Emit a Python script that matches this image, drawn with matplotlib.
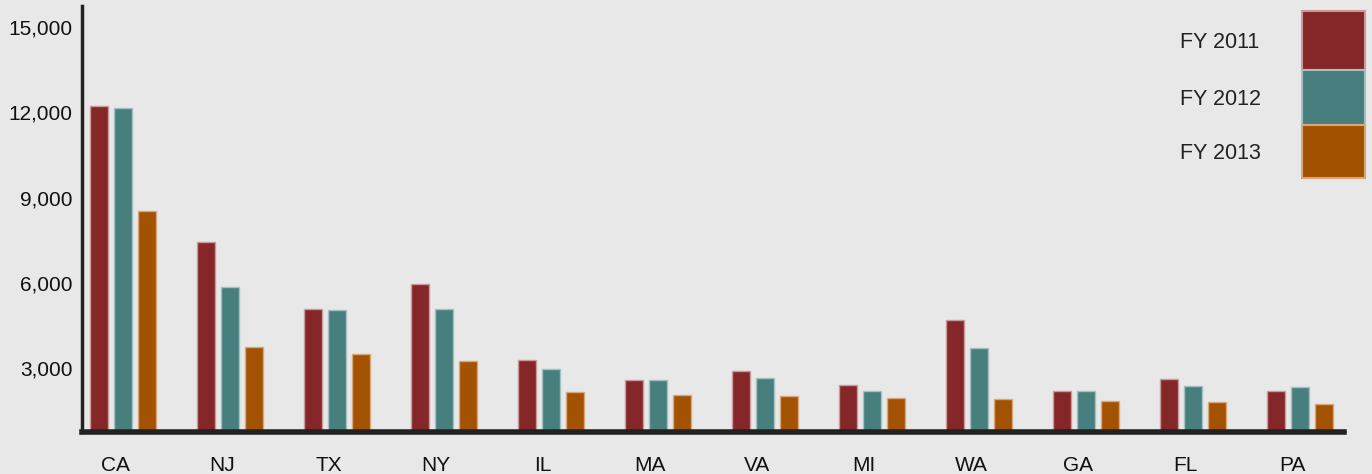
import matplotlib
matplotlib.use("Agg")
import matplotlib.pyplot as plt
import matplotlib.transforms as mtransforms
from matplotlib.patches import Rectangle
import numpy as np

plt.rcParams["font.family"] = ["Liberation Sans", "DejaVu Sans"]

STATES = ["CA", "NJ", "TX", "NY", "IL", "MA", "VA", "MI", "WA", "GA", "FL", "PA"]
FY2011 = [12230, 7440, 5090, 5970, 3300, 2570, 2880, 2420, 4690, 2200, 2610, 2200]
FY2012 = [12140, 5840, 5040, 5090, 2980, 2570, 2660, 2190, 3710, 2190, 2380, 2330]
FY2013 = [8510, 3750, 3490, 3260, 2160, 2060, 2015, 1930, 1920, 1830, 1790, 1745]
SERIES = ["FY 2011", "FY 2012", "FY 2013"]
COLORS = ["#852629", "#467f7e", "#a35201"]
EDGES = ["#c99a9b", "#a3c1c0", "#d6a87c"]
YTICKS = [3000, 6000, 9000, 12000, 15000]
BG = "#e8e8e8"

W, H = 1372, 474
fig = plt.figure(figsize=(W / 100, H / 100), dpi=100, facecolor=BG)
ax = fig.add_axes([82 / W, 42 / H, (1344 - 82) / W, (468 - 42) / H], facecolor=BG)

xs = np.arange(len(STATES))
step, width = 0.224, 0.168
for i, vals in enumerate([FY2011, FY2012, FY2013]):
    ax.bar(xs + (i - 1) * step, np.array(vals) - 760, bottom=760, width=width,
           color=COLORS[i], edgecolor=EDGES[i], linewidth=1.0)

ax.set_xlim(-0.383, 11.41)
ax.set_ylim(750, 15740)
ax.set_yticks(YTICKS)
ax.set_yticklabels([f"{v:,}" for v in YTICKS])
ax.set_xticks(xs)
ax.set_xticklabels(STATES)
ax.tick_params(axis="both", length=0, labelsize=15, colors="#111111")
ax.tick_params(axis="y", pad=7)
ax.tick_params(axis="x", pad=17)
offset = mtransforms.ScaledTranslation(-8 / 100, 0, fig.dpi_scale_trans)
for lbl in ax.get_xticklabels():
    lbl.set_transform(lbl.get_transform() + offset)

for s in ["top", "right"]:
    ax.spines[s].set_visible(False)
ax.spines["left"].set_linewidth(2.5)
ax.spines["left"].set_color("#222222")
ax.spines["bottom"].set_linewidth(4)
ax.spines["bottom"].set_color("#222222")

# custom stacked legend
blocks = [(11, 70), (70, 125), (125, 178)]
for i, (y0, y1) in enumerate(blocks):
    fig.add_artist(Rectangle((1302 / W, 1 - y1 / H), 63 / W, (y1 - y0) / H,
                             transform=fig.transFigure, facecolor=COLORS[i],
                             edgecolor=EDGES[i], linewidth=1.5))
    fig.text(1180 / W, 1 - ((y0 + y1) / 2 + 2) / H, SERIES[i], fontsize=15.5,
             color="#222222", va="center", ha="left")

fig.savefig("out.png", dpi=100, facecolor=BG)
